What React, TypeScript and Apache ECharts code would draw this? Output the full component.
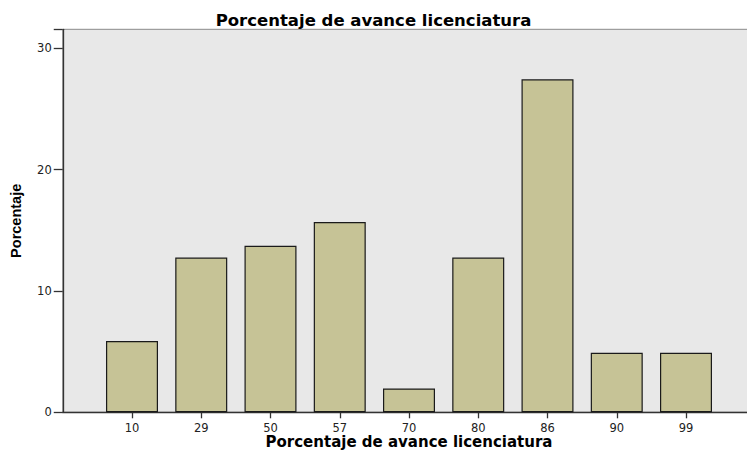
import React, { useEffect, useRef } from "react";
import * as echarts from "echarts";

const categories = ["10", "29", "50", "57", "70", "80", "86", "90", "99"];
const values = [5.88, 12.75, 13.73, 15.69, 1.96, 12.75, 27.45, 4.9, 4.9];
const yTicks = [0, 10, 20, 30];
const titleText = "Porcentaje de avance licenciatura";
const xName = "Porcentaje de avance licenciatura";
const yName = "Porcentaje";

export default function App() {
  const ref = useRef<HTMLDivElement>(null);
  useEffect(() => {
    if (!ref.current) return;
    const chart = echarts.init(ref.current, null, { renderer: "svg" });
    const n = categories.length;
    const xData = ["", ...categories, ""];
    const seriesData: any[] = ["-", ...values, "-"];
    chart.setOption({
      animation: false,
      backgroundColor: "#ffffff",
      title: {
        text: titleText,
        left: "center",
        top: 7,
        textStyle: {
          fontFamily: "DejaVu Sans",
          fontWeight: "bold",
          fontSize: 16.5,
          color: "#000",
        },
      },
      grid: {
        left: 62.75,
        right: -8.25,
        top: 29.3,
        bottom: 39.7,
        show: true,
        backgroundColor: "#e8e8e8",
        borderColor: "#8a8a8a",
        borderWidth: 1,
        containLabel: false,
        outerBoundsMode: "none",
      },
      xAxis: {
        type: "category",
        boundaryGap: false,
        data: xData,
        name: xName,
        nameLocation: "middle",
        nameGap: 22,
        nameMoveOverlap: false,
        nameTextStyle: {
          fontFamily: "DejaVu Sans",
          fontWeight: "bold",
          fontSize: 15,
          lineHeight: 15,
          color: "#000",
        },
        axisLine: { show: true, lineStyle: { color: "#333", width: 1.3 } },
        axisTick: {
          show: true,
          length: 6,
          interval: (i: number) => i > 0 && i <= n,
          lineStyle: { color: "#333", width: 1.3 },
        },
        axisLabel: {
          interval: 0,
          margin: 10,
          fontFamily: "DejaVu Sans",
          fontSize: 11.5,
          color: "#222",
        },
        splitLine: { show: false },
      },
      yAxis: {
        type: "value",
        min: 0,
        max: 31.57,
        interval: 10,
        name: yName,
        nameLocation: "middle",
        nameGap: 39,
        nameTextStyle: {
          fontFamily: "Liberation Sans",
          fontWeight: "bold",
          fontSize: 14.5,
          color: "#000",
        },
        axisLine: { show: true, lineStyle: { color: "#333", width: 1.3 } },
        axisTick: { show: true, length: 9, lineStyle: { color: "#333", width: 1.3 } },
        axisLabel: {
          margin: 11,
          fontFamily: "DejaVu Sans",
          fontSize: 11.5,
          color: "#222",
          formatter: (v: number) => (yTicks.includes(v) ? String(v) : ""),
        },
        splitLine: { show: false },
      },
      series: [
        {
          type: "bar",
          data: seriesData,
          barWidth: 52,
          itemStyle: {
            color: "#c6c396",
            borderColor: "#1a1a1a",
            borderWidth: 1.2,
          },
        },
      ],
    });
    return () => chart.dispose();
  }, []);
  return (
    <div
      ref={ref}
      style={{ position: "fixed", left: 0, top: 0, width: 747, height: 452 }}
    />
  );
}
